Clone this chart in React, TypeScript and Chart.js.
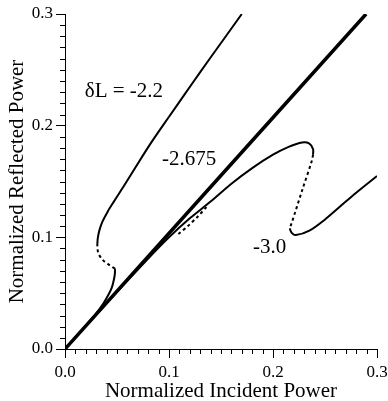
import React, { useEffect, useRef } from "react";
import { Chart, registerables } from "chart.js";

Chart.register(...registerables);

// Axis ticks
const xTicks = [0.0, 0.1, 0.2, 0.3];
const yTicks = [0.0, 0.1, 0.2, 0.3];

// δL = -2.2 curve
const d22LowerX = [0, 0.01, 0.02, 0.03, 0.037, 0.042, 0.045, 0.047, 0.048, 0.048];
const d22LowerY = [0, 0.0105, 0.021, 0.032, 0.041, 0.049, 0.055, 0.062, 0.068, 0.072];
const d22DashX = [0.048, 0.043, 0.036, 0.032, 0.031];
const d22DashY = [0.072, 0.075, 0.080, 0.086, 0.092];
const d22UpperX = [0.031, 0.0315, 0.033, 0.036, 0.041, 0.047, 0.056, 0.068, 0.083, 0.1, 0.115, 0.13, 0.15, 0.17];
const d22UpperY = [0.092, 0.099, 0.106, 0.114, 0.123, 0.132, 0.145, 0.163, 0.185, 0.208, 0.228, 0.248, 0.274, 0.3];

// δL = -2.675 curve (thick) and its small loop
const d2675X = [0, 0.2895];
const d2675Y = [0, 0.3];
const d2675DashX = [0.109, 0.118, 0.127, 0.136];
const d2675DashY = [0.103, 0.110, 0.118, 0.127];

// δL = -3.0 curve
const d30LowerX = [0, 0.04, 0.08, 0.1, 0.12, 0.14, 0.16, 0.18, 0.2, 0.215, 0.228, 0.235, 0.2385, 0.2385];
const d30LowerY = [0, 0.041, 0.081, 0.1, 0.117, 0.132, 0.148, 0.162, 0.174, 0.181, 0.185, 0.184, 0.179, 0.174];
const d30DashX = [0.2385, 0.2375, 0.228, 0.218, 0.216];
const d30DashY = [0.174, 0.169, 0.142, 0.113, 0.108];
const d30UpperX = [0.216, 0.218, 0.222, 0.235, 0.25, 0.265, 0.28, 0.3];
const d30UpperY = [0.108, 0.104, 0.102, 0.106, 0.116, 0.128, 0.14, 0.155];

// Curve labels (text, anchor in data units)
const labelTexts = ["δL = -2.2", "-2.675", "-3.0"];
const labelX = [0.019, 0.0933, 0.1808];
const labelY = [0.2256, 0.1647, 0.0859];

const SERIF = "'Liberation Serif', 'Times New Roman', Times, serif";

const zip = (xs: number[], ys: number[]) => xs.map((x, i) => ({ x, y: ys[i] }));

const minorTicks = {
  id: "minorTicks",
  afterDraw(chart: any) {
    const ctx = chart.ctx;
    const xs = chart.scales.x;
    const ys = chart.scales.y;
    ctx.save();
    ctx.strokeStyle = "#000";
    ctx.lineWidth = 1;
    ctx.beginPath();
    for (let i = 1; i < 30; i++) {
      if (i % 10 === 0) continue;
      const v = i / 100;
      const px = Math.round(xs.getPixelForValue(v)) + 0.5;
      ctx.moveTo(px, chart.chartArea.bottom);
      ctx.lineTo(px, chart.chartArea.bottom + 5);
      const py = Math.round(ys.getPixelForValue(v)) + 0.5;
      ctx.moveTo(chart.chartArea.left, py);
      ctx.lineTo(chart.chartArea.left - 5, py);
    }
    ctx.stroke();
    ctx.restore();
  },
};

const curveLabels = {
  id: "curveLabels",
  afterDatasetsDraw(chart: any) {
    const ctx = chart.ctx;
    ctx.save();
    ctx.fillStyle = "#000";
    ctx.font = `21px ${SERIF}`;
    ctx.textAlign = "left";
    ctx.textBaseline = "alphabetic";
    labelTexts.forEach((t, i) => {
      ctx.fillText(t, chart.scales.x.getPixelForValue(labelX[i]), chart.scales.y.getPixelForValue(labelY[i]));
    });
    ctx.restore();
  },
};

export default function App() {
  const ref = useRef<HTMLCanvasElement | null>(null);
  useEffect(() => {
    if (!ref.current) return;
    const line = (xs: number[], ys: number[], width: number, dash: number[] = []) => ({
      data: zip(xs, ys),
      showLine: true,
      borderColor: "#000",
      backgroundColor: "#000",
      borderWidth: width,
      borderDash: dash,
      pointRadius: 0,
      tension: 0.3,
      fill: false,
    });
    const axis = (ticks: number[], title: string, isX: boolean) => ({
      type: "linear",
      min: 0,
      max: 0.3,
      afterBuildTicks: (s: any) => {
        s.ticks = ticks.map((v) => ({ value: v }));
      },
      afterFit: (s: any) => {
        if (isX) {
          s.height = 52;
          s.paddingLeft = 0;
          s.paddingRight = 0;
        } else {
          s.width = 65;
          s.paddingTop = 0;
          s.paddingBottom = 0;
        }
      },
      ticks: {
        color: "#000",
        font: { family: SERIF, size: 17 },
        padding: isX ? 4 : 3,
        maxRotation: 0,
        callback: (v: any) => Number(v).toFixed(1),
      },
      grid: {
        display: true,
        drawOnChartArea: false,
        drawTicks: true,
        tickLength: 9,
        tickColor: "#000",
        tickWidth: 1,
      },
      border: { display: true, color: "#000", width: 1 },
      title: {
        display: true,
        text: title,
        color: "#000",
        font: { family: SERIF, size: 21 },
        padding: isX ? { top: 0, bottom: -3 } : { top: 5, bottom: 0 },
      },
    });
    const chart = new Chart(ref.current, {
      type: "scatter",
      data: {
        datasets: [
          line(d22LowerX, d22LowerY, 2),
          line(d22DashX, d22DashY, 2, [3, 3]),
          line(d22UpperX, d22UpperY, 2),
          line(d30LowerX, d30LowerY, 2),
          line(d30DashX, d30DashY, 2, [3, 3]),
          line(d30UpperX, d30UpperY, 2),
          line(d2675DashX, d2675DashY, 2, [3, 3]),
          line(d2675X, d2675Y, 3.5),
        ] as any,
      },
      options: {
        animation: false,
        responsive: false,
        devicePixelRatio: 1,
        layout: { padding: { top: 14, right: 11, left: 0, bottom: 0 } },
        plugins: { legend: { display: false }, tooltip: { enabled: false } },
        scales: {
          x: axis(xTicks, "Normalized Incident Power", true),
          y: axis(yTicks, "Normalized Reflected Power", false),
        } as any,
      },
      plugins: [minorTicks, curveLabels],
    });
    return () => chart.destroy();
  }, []);
  return (
    <div style={{ position: "absolute", left: 0, top: 0, width: 388, height: 401, background: "#fff" }}>
      <canvas ref={ref} width={388} height={401} />
    </div>
  );
}
